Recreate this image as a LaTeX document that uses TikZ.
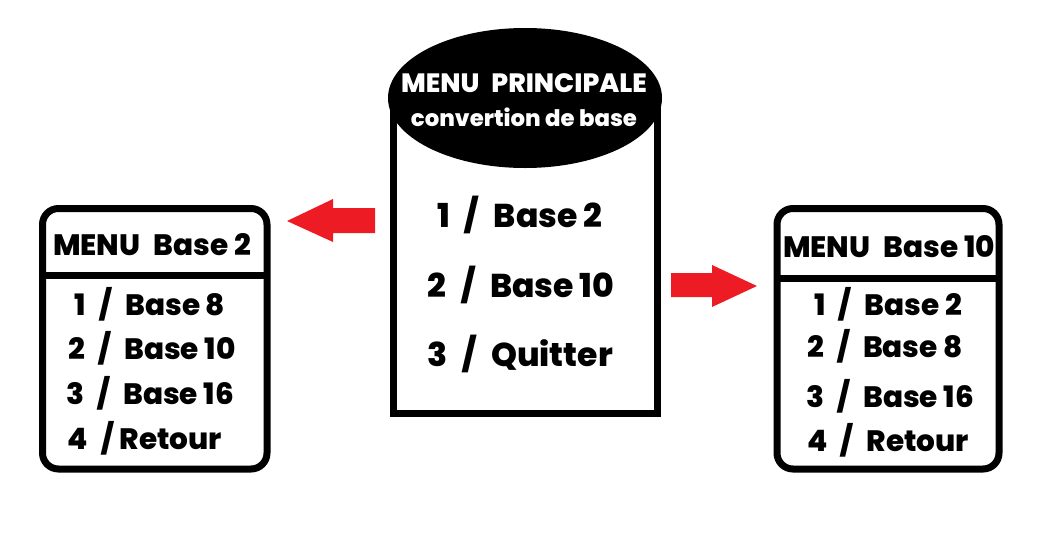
\documentclass[tikz,border=0pt]{standalone}
\usepackage{fontspec}
\setmainfont{Poppins}[UprightFont=* ExtraBold]
\usetikzlibrary{shapes.geometric}
\definecolor{arrred}{HTML}{ED1C24}
\newcommand{\gap}{\hspace{0.45em}}
\begin{document}
\begin{tikzpicture}[x=1pt,y=-1pt,
  txt/.style={inner sep=0pt, text depth=0pt, anchor=center},
  big/.style={txt, text height=23pt, font=\fontsize{33}{36}\selectfont},
  mid/.style={txt, text height=20.5pt, font=\fontsize{29.5}{32}\selectfont},
  menubox/.style={draw, line width=7pt, rounded corners=16pt, rectangle, inner sep=0pt, outer sep=0pt},
  thick7/.style={line width=7pt},
  blockarrow/.style={fill=arrred, draw=none}]
\useasboundingbox (0,0) rectangle (1054,544);
% central menu
\draw[thick7] (393,98) -- (393,413) -- (657,413) -- (657,98);
\node[ellipse, fill=black, minimum width=274pt, minimum height=140pt, inner sep=0pt] (head) at (525,98) {};
\node[txt, text height=18.5pt, font=\fontsize{26.5}{29}\selectfont, text=white] (t1) at (524,83) {MENU\gap PRINCIPALE};
\node[txt, text height=16pt, font=\fontsize{22.8}{25}\selectfont, text=white] (t2) at (524,118) {convertion de base};
\node[big] (c1) at (520,216) {1\gap/\gap Base 2};
\node[big] (c2) at (521,286) {2\gap/\gap Base 10};
\node[big] (c3) at (520,355) {3\gap/\gap Quitter};
% left menu
\node[menubox, minimum width=224.5pt, minimum height=260.5pt] (lbox) at (154.75,338.75) {};
\draw[thick7] (42.5,275) -- (267,275);
\node[mid] (lt) at (152,245) {MENU\gap Base 2};
\node[mid] (l1) at (150,305) {1\gap/\gap Base 8};
\node[mid] (l2) at (152,349) {2\gap/\gap Base 10};
\node[mid] (l3) at (150,394) {3\gap/\gap Base 16};
\node[mid] (l4) at (145,439) {4\gap/ Retour};
% right menu
\node[menubox, minimum width=222pt, minimum height=260.5pt] (rbox) at (888,338.75) {};
\draw[thick7] (777,278) -- (999,278);
\node[mid] (rt) at (889,247) {MENU\gap Base 10};
\node[mid] (r1) at (888,305) {1\gap/\gap Base 2};
\node[mid] (r2) at (885,347) {2\gap/\gap Base 8};
\node[mid] (r3) at (890,397) {3\gap/\gap Base 16};
\node[mid] (r4) at (888,441) {4\gap/\gap Retour};
% arrows
\fill[blockarrow] (375,208) -- (333,208) -- (333,199) -- (287,221) -- (333,242) -- (333,233) -- (375,233) -- cycle;
\fill[blockarrow] (671,273) -- (712,273) -- (712,265) -- (757,286) -- (712,307) -- (712,297) -- (671,297) -- cycle;
\end{tikzpicture}
\end{document}
